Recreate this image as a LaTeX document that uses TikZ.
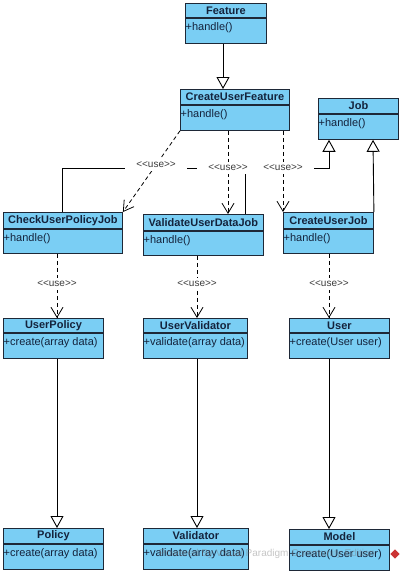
\documentclass[tikz,border=0pt]{standalone}
\usepackage{fontspec}
\setmainfont{Liberation Sans}
\newfontfamily\labfont{Liberation Sans}
\usetikzlibrary{arrows.meta}
\definecolor{clsfill}{RGB}{122,206,244}
\definecolor{clstext}{RGB}{20,35,60}
\definecolor{clsline}{RGB}{30,40,55}
\definecolor{labtext}{RGB}{60,60,60}
\newcommand\umlcls[8]{%
  \node[clshead, minimum width=#4pt, minimum height=#5pt, anchor=north west] (#1h) at (#2,#3) {\textbf{#7}};
  \node[clsbody, minimum width=#4pt, minimum height=#6pt, anchor=north west] (#1) at (#1h.south west) {};
  \node[clstxt, anchor=north west] (#1t) at ([xshift=0.5pt,yshift=-4.5pt]#1.north west) {#8};
}
\begin{document}
\begin{tikzpicture}[x=1pt,y=-1pt,
  clshead/.style={draw=clsline, fill=clsfill, line width=0.9pt, inner sep=0pt, text=clstext,
    font=\fontsize{11}{12}\selectfont},
  clsbody/.style={draw=clsline, fill=clsfill, line width=0.9pt, inner sep=0pt},
  clstxt/.style={inner sep=0pt, text=clstext, font=\fontsize{11}{12}\selectfont},
  gen/.style={draw=black, line width=0.9pt, -{Triangle[open, length=12pt, width=13pt, fill=white]}},
  plain/.style={draw=black, line width=0.9pt},
  use/.style={draw=black, line width=0.8pt, dash pattern=on 4pt off 3pt, -{Straight Barb[length=10pt, width=12pt]}},
  lab/.style={fill=white, text=labtext, font=\labfont\fontsize{10}{11}\selectfont, inner xsep=11.5pt, inner ysep=1.5pt,
    text height=7pt, text depth=2pt}
]
\useasboundingbox (0,0) rectangle (402,573);
\fill[white] (0,0) rectangle (402,573);

% classes: name, left, top, width, head height, body height, title, body
\umlcls{feat}{185}{3}{81}{14}{25}{Feature}{+handle()}
\umlcls{cuf}{180}{89}{109}{15}{25}{CreateUserFeature}{+handle()}
\umlcls{job}{318}{98}{80}{15}{25}{Job}{+handle()}
\umlcls{cupj}{3}{212}{119}{16}{24}{CheckUserPolicyJob}{+handle()}
\umlcls{vudj}{143}{214}{120}{16}{24}{ValidateUserDataJob}{+handle()}
\umlcls{cuj}{283}{212}{90}{16}{24}{CreateUserJob}{+handle()}
\umlcls{up}{3}{318}{100}{14}{25}{UserPolicy}{+create(array data)}
\umlcls{uv}{143}{318}{104}{14}{25}{UserValidator}{+validate(array data)}
\umlcls{user}{289}{318}{100}{14}{25}{User}{+create(User user)}
\umlcls{pol}{3}{528}{100}{15}{25}{Policy}{+create(array data)}
\umlcls{val}{143}{528}{105}{15}{25}{Validator}{+validate(array data)}
\umlcls{mod}{289}{529}{100}{15}{25}{Model}{+create(User user)}

% generalizations
\draw[gen] ([xshift=38pt]feat.south west) -- ([xshift=43pt]cufh.north west);
\coordinate (jbus) at (329,168);
\draw[plain] ([xshift=102pt]vudjh.north west) |- (jbus);
\draw[gen] ([xshift=59pt]cupjh.north west) |- (jbus) -- ([xshift=11pt]job.south west);
\draw[gen] (cujh.north east) -- ([xshift=55pt]job.south west);
\draw[gen] ([xshift=54pt]up.south west) -- ([xshift=54pt]polh.north west);
\draw[gen] ([xshift=54pt]uv.south west) -- ([xshift=54pt]valh.north west);
\draw[gen] ([xshift=40pt]user.south west) -- ([xshift=40pt]modh.north west);

% dependencies
\draw[use] (cuf.south west) -- node[lab, pos=0.42] {<\kern0pt<use>\kern0pt>} (cupjh.north east);
\draw[use] ([xshift=48pt]cuf.south west) -- node[lab, pos=0.45] {<\kern0pt<use>\kern0pt>} ([xshift=85pt]vudjh.north west);
\draw[use] ([xshift=103pt]cuf.south west) -- node[lab, pos=0.46] {<\kern0pt<use>\kern0pt>} (cujh.north west);
\draw[use] ([xshift=54pt]cupj.south west) -- node[lab, pos=0.47] {<\kern0pt<use>\kern0pt>} ([xshift=54pt]uph.north west);
\draw[use] ([xshift=54pt]vudj.south west) -- node[lab, pos=0.45] {<\kern0pt<use>\kern0pt>} ([xshift=54pt]uvh.north west);
\draw[use] ([xshift=46pt]cuj.south west) -- node[lab, pos=0.47] {<\kern0pt<use>\kern0pt>} ([xshift=40pt]userh.north west);

% watermark
\node[text=gray, opacity=0.45, font=\fontsize{10}{11}\selectfont, inner sep=0pt, anchor=west] (wm) at (159,554) {Powered By Visual Paradigm Community Edition};
\node[fill=red!75!black, opacity=0.8, rotate=45, minimum size=6.5pt, inner sep=0pt] (logo) at (395,554) {};
\end{tikzpicture}
\end{document}
